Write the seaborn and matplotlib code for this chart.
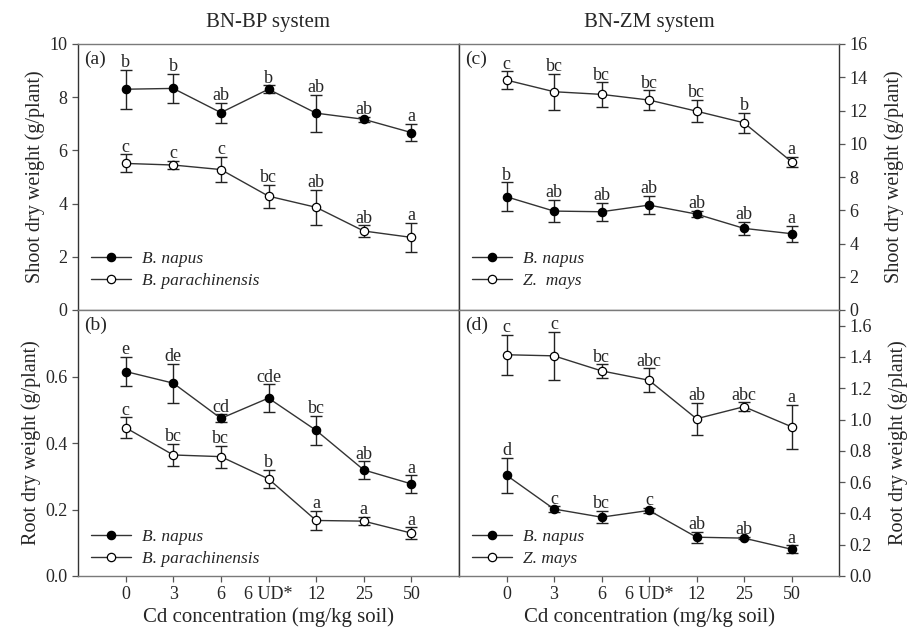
import numpy as np
import pandas as pd
import matplotlib
matplotlib.use("Agg")
import matplotlib.pyplot as plt
import seaborn as sns

# x categories (Cd treatments)
cd_labels = ["0", "3", "6", "6 UD*", "12", "25", "50"]

# (a) shoot dry weight, BN-BP system
a_napus = [8.30, 8.33, 7.42, 8.30, 7.40, 7.17, 6.67]
a_napus_err = [0.73, 0.55, 0.38, 0.14, 0.70, 0.09, 0.33]
a_napus_let = ["b", "b", "ab", "b", "ab", "ab", "a"]
a_para = [5.51, 5.45, 5.28, 4.28, 3.86, 2.97, 2.73]
a_para_err = [0.34, 0.16, 0.47, 0.43, 0.67, 0.21, 0.55]
a_para_let = ["c", "c", "c", "bc", "ab", "ab", "a"]

# (b) root dry weight, BN-BP system
b_napus = [0.615, 0.580, 0.474, 0.535, 0.438, 0.319, 0.277]
b_napus_err = [0.045, 0.059, 0.012, 0.041, 0.043, 0.026, 0.026]
b_napus_let = ["e", "de", "cd", "cde", "bc", "ab", "a"]
b_para = [0.446, 0.364, 0.359, 0.292, 0.167, 0.165, 0.129]
b_para_err = [0.031, 0.033, 0.033, 0.027, 0.029, 0.013, 0.017]
b_para_let = ["c", "bc", "bc", "b", "a", "a", "a"]

# (c) shoot dry weight, BN-ZM system
c_napus = [6.81, 5.95, 5.91, 6.31, 5.77, 4.91, 4.59]
c_napus_err = [0.86, 0.67, 0.54, 0.55, 0.20, 0.40, 0.47]
c_napus_let = ["b", "ab", "ab", "ab", "ab", "ab", "a"]
c_mays = [13.83, 13.13, 12.97, 12.63, 11.96, 11.26, 8.92]
c_mays_err = [0.52, 1.08, 0.73, 0.58, 0.68, 0.60, 0.30]
c_mays_let = ["c", "bc", "bc", "bc", "bc", "b", "a"]

# (d) root dry weight, BN-ZM system
d_napus = [0.644, 0.428, 0.376, 0.419, 0.248, 0.242, 0.171]
d_napus_err = [0.112, 0.017, 0.040, 0.016, 0.036, 0.008, 0.026]
d_napus_let = ["d", "c", "bc", "c", "ab", "ab", "a"]
d_mays = [1.414, 1.407, 1.311, 1.251, 1.005, 1.082, 0.954]
d_mays_err = [0.128, 0.153, 0.043, 0.077, 0.103, 0.029, 0.142]
d_mays_let = ["c", "c", "bc", "abc", "ab", "abc", "a"]

sns.set_style("ticks")
plt.rcParams["font.family"] = ["Liberation Serif", "DejaVu Serif"]

fig = plt.figure(figsize=(9.09, 6.3), dpi=100)

L, R, MID = 78 / 909, 839 / 909, 459 / 909
TOP, HMID, BOT = 1 - 44 / 630, 1 - 310 / 630, 1 - 576 / 630
ax_a = fig.add_axes([L, HMID, MID - L, TOP - HMID])
ax_b = fig.add_axes([L, BOT, MID - L, HMID - BOT])
ax_c = fig.add_axes([MID, HMID, R - MID, TOP - HMID])
ax_d = fig.add_axes([MID, BOT, R - MID, HMID - BOT])

xpos = np.arange(len(cd_labels))


def draw_series(ax, vals, errs, letters, name, filled):
    df = pd.DataFrame({"x": xpos, "y": vals})
    sns.lineplot(data=df, x="x", y="y", ax=ax, color="#333333", lw=1.0,
                 marker="o", markersize=6,
                 markerfacecolor="black" if filled else "white",
                 markeredgecolor="black", markeredgewidth=0.9,
                 label=name, zorder=3)
    ax.errorbar(xpos, vals, yerr=errs, fmt="none", ecolor="#222222",
                elinewidth=1.0, capsize=4, capthick=1.0, zorder=2)
    for x, v, e, t in zip(xpos, vals, errs, letters):
        ax.annotate(t, (x, v + e), xytext=(0, -1), textcoords="offset points",
                    ha="center", va="bottom", fontsize=13)


draw_series(ax_a, a_napus, a_napus_err, a_napus_let, "B. napus", True)
draw_series(ax_a, a_para, a_para_err, a_para_let, "B. parachinensis", False)
draw_series(ax_b, b_napus, b_napus_err, b_napus_let, "B. napus", True)
draw_series(ax_b, b_para, b_para_err, b_para_let, "B. parachinensis", False)
draw_series(ax_c, c_napus, c_napus_err, c_napus_let, "B. napus", True)
draw_series(ax_c, c_mays, c_mays_err, c_mays_let, "Z.  mays", False)
draw_series(ax_d, d_napus, d_napus_err, d_napus_let, "B. napus", True)
draw_series(ax_d, d_mays, d_mays_err, d_mays_let, "Z. mays", False)

ax_a.set_ylim(0, 10)
ax_a.set_yticks(np.arange(0, 11, 2))
ax_b.set_ylim(0, 0.8)
ax_b.set_yticks([0.0, 0.2, 0.4, 0.6])
ax_b.set_yticklabels(["0.0", "0.2", "0.4", "0.6"])
ax_c.set_ylim(0, 16)
ax_c.set_yticks(np.arange(0, 17, 2))
ax_d.set_ylim(0, 1.7)
ax_d.set_yticks(np.arange(0, 1.61, 0.2))
ax_d.set_yticklabels([f"{v:.1f}" for v in np.arange(0, 1.61, 0.2)])

leg_y = {"(a)": 0.08, "(b)": 0.034, "(c)": 0.08, "(d)": 0.034}

for ax, tag in zip([ax_a, ax_b, ax_c, ax_d], ["(a)", "(b)", "(c)", "(d)"]):
    ax.set_xlim(-1, 7)
    ax.set_xlabel("")
    ax.set_ylabel("")
    ax.text(0.015, 0.975, tag, transform=ax.transAxes, ha="left", va="top",
            fontsize=14)
    for s in ["top", "bottom"]:
        ax.spines[s].set_color("#7a7a7a")
    for s in ["left", "right"]:
        ax.spines[s].set_color("#333333")
    for s in ax.spines.values():
        s.set_visible(True)
        s.set_linewidth(1.0)
    ax.tick_params(axis="both", direction="out", length=4, width=0.9,
                   color="#555555", labelsize=13)
    leg = ax.legend(loc="lower left", bbox_to_anchor=(0.035, leg_y[tag]),
                    frameon=False, fontsize=12.5, handlelength=2.3,
                    handletextpad=0.6, labelspacing=0.32, borderpad=0,
                    borderaxespad=0)
    for t in leg.get_texts():
        t.set_fontstyle("italic")

for ax in [ax_a, ax_c]:
    ax.set_xticks([])
for ax in [ax_b, ax_d]:
    ax.set_xticks(xpos)
    ax.set_xticklabels(cd_labels)
    ax.set_xlabel("Cd concentration (mg/kg soil)", fontsize=15, labelpad=3)

for ax in [ax_c, ax_d]:
    ax.yaxis.tick_right()
    ax.yaxis.set_label_position("right")
for ax in [ax_a, ax_b]:
    ax.yaxis.tick_left()

ax_a.set_ylabel("Shoot dry weight (g/plant)", fontsize=14.5, labelpad=3)
ax_b.set_ylabel("Root dry weight (g/plant)", fontsize=14.5, labelpad=3)
ax_c.set_ylabel("Shoot dry weight (g/plant)", fontsize=14.5, labelpad=12)
ax_d.set_ylabel("Root dry weight (g/plant)", fontsize=14.5, labelpad=12)

ax_a.set_title("BN-BP system", fontsize=15, pad=12)
ax_c.set_title("BN-ZM system", fontsize=15, pad=12)

fig.savefig("out.png", dpi=100)
